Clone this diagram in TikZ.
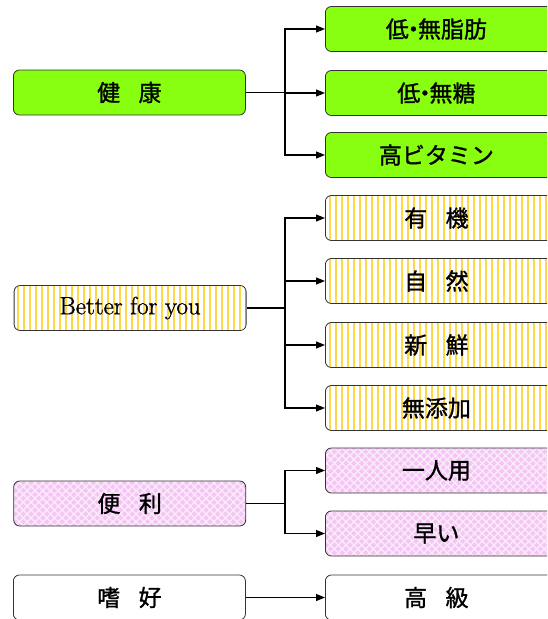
\documentclass[tikz,border=0pt]{standalone}
\usepackage{fontspec}
\newfontfamily\jp[FakeBold=1.2]{Noto Sans CJK JP}
\newfontfamily\lmr[FakeBold=1.1]{Latin Modern Roman}
\usetikzlibrary{arrows.meta,patterns.meta}
\definecolor{lgreen}{HTML}{88FF11}
\definecolor{stripe}{HTML}{FFD84A}
\definecolor{pinkbg}{HTML}{F3C6F3}
\definecolor{pinkln}{HTML}{FCEAFC}
\newcommand{\dotj}{\kern-0.3em・\kern-0.3em}
\newcommand{\rt}[1]{\makebox[222pt]{#1}}
\tikzset{
  box/.style={draw=black!80, line width=0.8pt, rounded corners=6pt, minimum height=45pt, inner ysep=0pt, font=\jp\fontsize{23}{23}\selectfont},
  lbox/.style={box, minimum width=232pt, inner xsep=0pt},
  rbox/.style={box, minimum width=260pt, text width=260pt, align=left, inner xsep=0pt, anchor=west},
  green/.style={fill=lgreen},
  stripes/.style={preaction={fill=white}, pattern={Lines[angle=90,distance=6pt,line width=2.2pt]}, pattern color=stripe},
  pinkx/.style={preaction={fill=pinkbg}, pattern={Hatch[angle=45,distance=5.5pt,line width=1.4pt]}, pattern color=pinkln},
  plain/.style={fill=white},
  conn/.style={line width=1.1pt, black},
  arr/.style={conn, -{Triangle[length=9pt,width=7pt]}}
}
\begin{document}
\begin{tikzpicture}[x=1pt,y=-1pt]
\useasboundingbox (0,0) rectangle (547,619);
\clip (0,0) rectangle (547,619);
% left boxes
\node[lbox,green,anchor=west] (k) at (13,92.5) {健\hspace{0.8em}康};
\node[lbox,stripes,anchor=west] (b) at (13,308) {\lmr\fontsize{25}{25}\selectfont\raisebox{-1pt}{Better for you}};
\node[lbox,pinkx,anchor=west] (v) at (13,503.5) {便\hspace{0.8em}利};
\node[lbox,plain,anchor=west] (s) at (13,597.5) {嗜\hspace{0.8em}好};
% right boxes (extend past the right edge)
\node[rbox,green] (k1) at (325,29) {\rt{低\dotj 無脂肪}};
\node[rbox,green] (k2) at (325,93) {\rt{低\dotj 無糖}};
\node[rbox,green] (k3) at (325,155) {\rt{高ビタミン}};
\node[rbox,stripes] (b1) at (325,218) {\rt{有\hspace{0.8em}機}};
\node[rbox,stripes] (b2) at (325,281) {\rt{自\hspace{0.8em}然}};
\node[rbox,stripes] (b3) at (325,345) {\rt{新\hspace{0.8em}鮮}};
\node[rbox,stripes] (b4) at (325,408) {\rt{無添加}};
\node[rbox,pinkx] (v1) at (325,470.5) {\rt{一人用}};
\node[rbox,pinkx] (v2) at (325,533.5) {\rt{早い}};
\node[rbox,plain] (s1) at (325,597.5) {\rt{高\hspace{0.8em}級}};
% branch points
\coordinate (kb) at (285,92.5);
\coordinate (bb) at (285,308);
\coordinate (vb) at (285,503.5);
\draw[conn] (k.east) -- (kb);
\draw[arr] (kb) |- (k1.west);
\draw[arr] (kb) |- (k2.west);
\draw[arr] (kb) |- (k3.west);
\draw[conn] (b.east) -- (bb);
\draw[arr] (bb) |- (b1.west);
\draw[arr] (bb) |- (b2.west);
\draw[arr] (bb) |- (b3.west);
\draw[arr] (bb) |- (b4.west);
\draw[conn] (v.east) -- (vb);
\draw[arr] (vb) |- (v1.west);
\draw[arr] (vb) |- (v2.west);
\draw[arr] (s.east) -- (s1.west);
\end{tikzpicture}
\end{document}
